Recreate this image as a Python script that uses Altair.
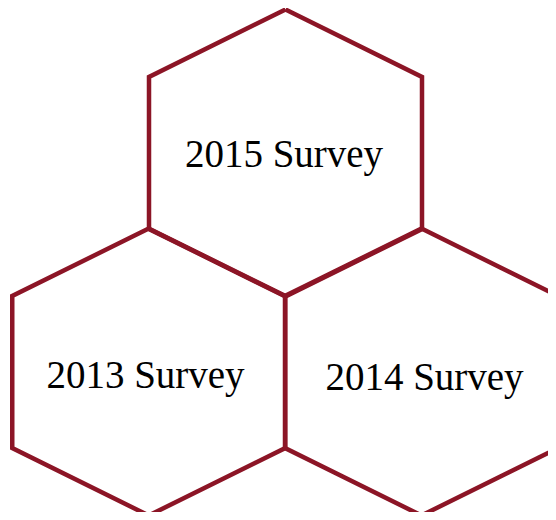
import altair as alt
import pandas as pd

# Hexagon centres (pixel-space data units) and shape offsets
hex_names = ["2015 Survey", "2013 Survey", "2014 Survey"]
center_x = [285.5, 148.75, 421.5]
center_y = [153.0, 372.0, 372.0]
vertex_dx = [0, 136.5, 136.5, 0, -136.5, -136.5, 0]
vertex_dy = [-143.5, -76, 76, 143.5, 76, -76, -143.5]

label_x = [284.0, 145.5, 424.5]
label_y = [167.0, 388.0, 390.0]

rows = []
for name, cx, cy in zip(hex_names, center_x, center_y):
    for i, (dx, dy) in enumerate(zip(vertex_dx, vertex_dy)):
        rows.append({"hex": name, "order": i, "x": cx + dx, "y": cy + dy})
hex_df = pd.DataFrame(rows)

label_df = pd.DataFrame({"label": hex_names, "x": label_x, "y": label_y})

W, H = 540, 504
xs = alt.Scale(domain=[8, 8 + W], nice=False, zero=False)
ys = alt.Scale(domain=[8, 8 + H], nice=False, zero=False, reverse=True)

hexes = alt.Chart(hex_df).mark_line(
    color="#8C1526", strokeWidth=4.5, strokeJoin="miter", clip=False
).encode(
    x=alt.X("x:Q", scale=xs, axis=None),
    y=alt.Y("y:Q", scale=ys, axis=None),
    detail="hex:N",
    order="order:Q",
)

labels = alt.Chart(label_df).mark_text(
    font="Liberation Serif", fontSize=39, color="black",
    align="center", baseline="alphabetic"
).encode(
    x=alt.X("x:Q", scale=xs, axis=None),
    y=alt.Y("y:Q", scale=ys, axis=None),
    text="label:N",
)

chart = alt.layer(hexes, labels).properties(
    width=W, height=H, padding=0, autosize=alt.AutoSizeParams(type="none")
).configure_view(stroke=None)

chart.save("out.html", embed_options={"renderer": "svg", "actions": False})
